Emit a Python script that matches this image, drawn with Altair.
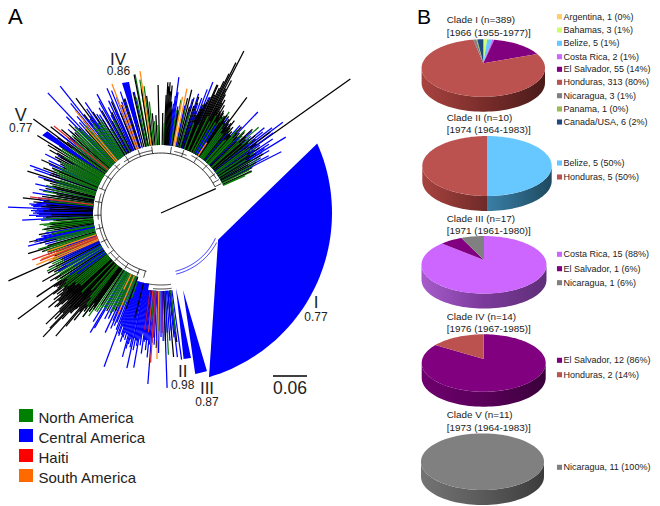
import numpy as np
import pandas as pd
import altair as alt

FONT = "Liberation Sans"
CX, CY = 161, 213

# tree tips: (angle clockwise from north, tip radius)
black_tips = [(65,100),(63.5,102),(62,108),(60,118),(58,112),(56.5,118),(54.7,232),(53.5,136),(52,120),(50.5,122),(49,112),(47.5,124),(46,116),(44.5,112),(43,118),(41.5,104),(40,112),(38.5,118),(36.6,144),(35.5,110),(34,118),(33,108),(31.5,120),(30.5,125),(30,112),(29.5,130),(29,126),(28.5,135),(28,150),(27.5,140),(27.1,182),(26.5,168),(26,155),(25.5,146),(25,138),(24.5,130),(24,140),(23.6,140),(23,126),(22.5,120),(22,118),(21.5,112),(21,116),(20.5,108),(20,104),(19,108),(18,122),(17,112),(16,120),(15,110),(14,127),(13,118),(9.5,104),(6,105),(5.5,112),(5,128),(4.5,122),(4,131),(3.5,127),(3,131),(2.5,118),(1,100),(-1.3,128),(-3,98),(-5,100),(-7,118),(-9,125),(-11,141),(-13,124),(-14.5,132),(-16,134),(-18,120),(-20,115),(-22,108),(-24,122),(-26,112),(-28,104),(-30,118),(-32,110),(-34,122),(-36.5,143),(-38,125),(-40,120),(-42,112),(-44,118),(-46,128),(-48,122),(-50,130),(-52,140),(-53.6,158.6),(-55,125),(-56,135),(-57.9,146),(-59,132),(-60.5,128),(-62,120),(-64,112),(-66,131),(-67.5,118),(-69,126),(-71,118),(-72.6,140),(-74,122),(-76,112),(-78,118),(-80,106),(-82,120),(-83.8,139),(-85,128),(-87,120),(-89,118),(-90.5,122),(-92,115),(-94,105),(-96,110),(-98,118),(-100,124),(-102.4,135),(-104,125),(-107,139),(-110,120),(-114,167),(-116,125),(-118,128),(-120,137),(-121.5,130),(-123,120),(-124,150),(-125,128),(-126.5,178),(-127,135),(-128,132),(-128.5,125),(-129,138),(-129.5,130),(-130,147),(-130.5,135),(-131,135),(-131.5,142),(-132,140),(-132.5,135),(-133,128),(-133.5,140),(-134,160),(-134.5,142),(-135,150),(-135.5,140),(-136,160),(-136.4,171),(-137,145),(-137.5,135),(-138,135),(-138.5,128),(-139.5,162),(-140,148),(-141,138),(-142,125),(-143,130),(-144,122),(-145,118),(-147,110),(-151,112),(-155,108),(-160,102),(-166,108),(-172,110),(-178,135),(-182,128),(-185,144.5),(-187,130),
 (28.2,118),(29.2,115),(30.2,118),(30.8,116),(31.2,112),(32,118),(32.5,114),(33.5,116),(34.5,112),(35,118),(36,116),(37,112),(37.5,108),(38,114),(39,110),(39.5,106),(40.5,104),(41,108),(42,104),(43.5,110),(45,108),(46.5,104),(48,114),(49.5,106),(51,112),(52.5,110),(54,118),(55.5,108),(57,106),(59,104),(61,100),
 (-47,118),(-49,115),(-51,120),(-53,118),(-54,128),(-56.5,122),(-58,125),(-60,120),(-61,115),(-63,116),(-65,108),(-68,110),(-70,116),(-73,112),(-75,115),(-77,108),(-79,110),(-81,112),(-83,114),(-84.5,118),(-86,115),(-88,112),(-91,110),(-97,112),(-99,108),(-101,112),(-106,118),(-108,125),(-109,120),(-112,115),(-115,110),(-117,118),(-119,122),(-122,125),(-124.5,130),(-125.5,125),(-126,128),(-127.5,122),(-129.2,120),(-130.2,124),(-131.2,126),(-132.2,120),(-133.2,125),(-134.2,130),(-135.2,128),(-136.2,132),(-137.2,128),(-138.2,130),(-139,125),(-140.5,128),(-141.5,122),(-142.5,118),(-143.5,112),(-144.5,115)]
green_tips = [(66,92),(65.5,100),(64,98),(62.5,104),(61,112),(59.5,106),(57,110),(55.5,114),(53,105),(51.5,116),(48.7,130),(47,108),(45.5,118),(44,104),(42.5,112),(41,96),(39.5,108),(38,100),(36,104),(34,122),(32.5,112),(31,106),(29.5,112),(26,108),(23,96),(20,96),(16,104),(13,110),(10,115),(8.5,104),(2,90),(-2,88),(-4,92),(-6,112),(-7.6,128),(-9,135),(-10.6,141),(-12,118),(-27,104),(-31,98),(-33,112),(-36,104),(-39,100),(-41,116),(-43,106),(-45,122),(-47,112),(-49,118),(-51,108),(-58,118),(-61,100),(-63,112),(-65,105),(-68,116),(-70,108),(-73,112),(-75,110),(-76.5,118),(-78,112),(-79.5,120),(-81,116),(-82.5,108),(-84,112),(-93,118),(-94,108),(-95,112),(-95.5,122),(-96,118),(-96.5,105),(-97,115),(-97.5,110),(-98,120),(-99,116),(-100.5,106),(-101,112),(-103,118),(-105,110),(-106.5,128),(-108,122),(-113,118),(-115,120),(-117,128),(-119,108),(-121,118),(-123,124),(-125,115),(-127,125),(-129,110),(-132,108),(-135,112),(-138,104),(-141,118),(-143,130),(-145,126),(-147,118),(-150,112),(-152,105),(-154,110),(-156,102),(-158,100),(-161,90),(-175,110),(-179,118),(-183,142),(-187,120),
 (58,100),(56,104),(54,110),(52,112),(50,115),(48,105),(46.5,112),(44.5,102),(43,108),(41.5,98),(40,104),(37,100),(35,108),(33,116),(28,104),(-34,108),(-35,110),(-37,112),(-38,110),(-40,108),(-42,112),(-44,115),(-46,118),(-48,114),(-50,112),(-52,108),(-54,110),(-56,112),(-57,118),(-59,108),(-60,112),(-62,105),(-64,108),(-66,112),(-67,108),(-69,112),(-72,106),(-74,108),(-104,108),(-107,115),(-109,118),(-110.5,112),(-112,112),(-114,116),(-116,118),(-118,118),(-120,122),(-122,118),(-124,120),(-126,118),(-128,118),(-130,112),(-131,108),(-140,110),(-142,120),(-144,122),(-146,118),(-148,114),(-149,110),(-151,108),(-153,112),(-155,104),(-157,100),(-159,95)]
blue_tips = [(63,135),(62,122),(61,114),(60,125),(58.7,146),(57.5,128),(56.5,134),(55.5,120),(54.5,138),(53.3,152),(52.5,140),(51.5,130),(50.5,134),(49.5,118),(48,122),(46,108),(43.8,140),(42,118),(40,104),(37,112),(35,116),(32,104),(30,96),(22.5,125),(21.6,141),(20.5,132),(19.5,122),(18.5,116),(17.5,125),(15.5,118),(12.5,110),(9,108),(8,122),(7.5,137),(7,118),(6.5,110),(-12.5,124),(-17.5,120),(-18.5,128),(-19.5,118),(-21,124),(-22,132),(-23.4,136),(-25,124),(-26.5,118),(-28.3,135),(-29,128),(-30.5,122),(-32,116),(-34.4,134),(-35.5,128),(-37,118),(-38.5,162),(-39.5,142),(-41,128),(-43.3,165),(-44.5,135),(-46,120),(-48,125),(-50.5,118),(-52,128),(-61,118),(-63,130),(-65,124),(-66.5,122),(-70,139.5),(-71,134),(-73.5,128),(-77,129),(-79,124),(-81,130),(-85.5,125),(-86,132),(-86.5,130),(-87,128),(-87.8,156),(-88.5,124),(-89,130),(-89.5,126),(-90,128),(-90.5,122),(-91,132),(-92,118),(-92.9,139),(-93.5,120),(-101,122),(-102,128),(-103,130),(-104,137),(-105,120),(-109,100),(-111,105),(-114,112),(-116,108),(-118,112),(-119.5,118),(-121.5,102),(-124,110),(-126,104),(-148,128),(-149.4,139),(-150,133),(-152,120),(-153.5,118),(-155,132),(-156.5,126),(-158,118),(-159.7,164),(-160.5,128),(-161.5,120),(-162.5,135),(-163.5,125),(-165,149),(-166,135),(-167.6,158.7),(-168.5,140),(-169,130),(-170,157),(-171,134),(-172,142),(-173,128),(-173.5,138),(-174.5,145),(-175.6,171.5),(-177,132),(-179,140),(-181,128),(-182,175),(-184,128),(-186,125),(-186.5,145),(-188,148),
 (59,118),(58,122),(56,112),(54,118),(52,112),(-27,110),(-24,112),(-20,112),(-33,118),(-36,120),(-38,118),(-40,115),(-42,122),(-83,124),(-84,122),(-85,120),(-88,128),(-89.2,122),(-90.2,124),(-91.5,125),(-100,118),(-101.5,120),(-102.5,125),(-103.5,120),(-113,112),(-115,108),(-156,118),(-157.5,122),(-159,125),(-160,118),(-161,130),(-162,128),(-163,130),(-164,132),(-164.5,126),(-165.5,140),(-166.5,130),(-167,138),(-168,128),(-169.5,135),(-170.5,128),(-171.5,122),(-172.5,130),(-174,128),(-175,132),(-176,130),(-178,128),(-180,124),(-183,120),(-185,118)]
orange_tips = [(33,84),(11.8,127),(10.5,118),(-8.4,143.5),(-20.8,138),(-19.5,115),(-39.9,134),(-41.5,115),(-108.5,120),(-111,128),(-112.6,135),(-113.5,122),(-154,85),(-157,110),(-178.4,146)]
red_tips = [(-50.9,138),(-83,132),(-110,137),(-111.5,130),(-176,150),(-174,120)]
magenta_tips = [(-172,118),(-176.5,125),(-180.5,120)]

# short links between the backbone and the tips
black_stubs = [-165,-159,-147,-136,-128,-116,-104,-92,-80,-68,-56,-44,-32,-20,-8,9,20,33,44,54,60,64]

# collapsed clades: (apex angle, apex radius, rim angle 1, rim angle 2, rim radius 1, rim radius 2)
clade_wedges = [(115,63,66,163.7,171,171),(168.7,76.5,168.3,171.2,148,147.7),(164,80,163.8,168,164.6,164.6),(-16,65.5,-16.7,-13.7,135.7,134.9),(-55.4,70.5,-56.8,-54.3,142,140)]

# backbone arcs: (start angle, end angle, radius)
black_arcs = [(-166,64,60),(-160,-128,64),(-124,-100,63),(-96,-72,63),(-68,-40,64),(-36,-8,63),(12,24,63),(28,58,65),(-188,-168,72),(-188,-174,76)]
blue_arcs = [(115,166,60),(118,166,63)]

# pies
pie_values = {
    "I": [("Argentina",1),("Bahamas",3),("Belize",5),("Costa Rica",2),("El Salvador",55),("Honduras",313),("Nicaragua",3),("Panama",1),("Canada/USA",6)],
    "II": [("Belize",5),("Honduras",5)],
    "III": [("Costa Rica",15),("El Salvador",1),("Nicaragua",1)],
    "IV": [("El Salvador",12),("Honduras",2)],
    "V": [("Nicaragua",11)],
}
country_colors = {"Argentina":"#FFCC66","Bahamas":"#CCFF66","Belize":"#66C8FF","Costa Rica":"#CC66FF","El Salvador":"#800080","Honduras":"#BC5250","Nicaragua":"#808080","Panama":"#9BBB59","Canada/USA":"#1F497D"}
# centre x, centre y, semi-axes, depth, apex shift
pie_geom = {"I":(483.3,68,61.7,28.7,15,-4.7),"II":(487,166,64.7,30,15,-2.7),"III":(484,264.8,62.5,28.8,15,-4.8),"IV":(483.7,363,62,28.7,15,-4),"V":(482.5,461.7,61.5,28.3,15,0)}
walls = {
 "I":[(90,270,["#4A1B1A","#7A2D2B","#A8433F"])],
 "II":[(90,180,["#1E4A60","#3A7FA6"]),(180,270,["#6E2A28","#A8433F"])],
 "III":[(90,270,["#5F2E78","#7B3A9A","#A65CCB"])],
 "IV":[(90,270,["#3A003A","#5A005A","#6E006E"])],
 "V":[(90,270,["#3C3C3C","#5A5A5A","#747474"])],
}

pie_titles = [("Clade I (n=389)",446.7,23),("[1966 (1955-1977)]",446.7,36),("Clade II (n=10)",446.7,120.7),("[1974 (1964-1983)]",446.7,133.3),("Clade III (n=17)",446.7,221.7),("[1971 (1961-1980)]",446.7,234),("Clade IV (n=14)",446.7,320),("[1976 (1967-1985)]",446.7,332.3),("Clade V (n=11)",446.7,418.3),("[1973 (1964-1983)]",446.7,430.7)]
pie_legend = [("Argentina, 1 (0%)","Argentina",16.7),("Bahamas, 3 (1%)","Bahamas",30),("Belize, 5 (1%)","Belize",43.3),("Costa Rica, 2 (1%)","Costa Rica",56.7),("El Salvador, 55 (14%)","El Salvador",69.3),("Honduras, 313 (80%)","Honduras",82.3),("Nicaragua, 3 (1%)","Nicaragua",95.7),("Panama, 1 (0%)","Panama",109),("Canada/USA, 6 (2%)","Canada/USA",122),
 ("Belize, 5 (50%)","Belize",163),("Honduras, 5 (50%)","Honduras",177),("Costa Rica, 15 (88%)","Costa Rica",254.3),("El Salvador, 1 (6%)","El Salvador",268.7),("Nicaragua, 1 (6%)","Nicaragua",282.7),("El Salvador, 12 (86%)","El Salvador",360.3),("Honduras, 2 (14%)","Honduras",374.7),("Nicaragua, 11 (100%)","Nicaragua",467.3)]
region_legend = [("North America","#008000",415.5),("Central America","#0000FF",435.5),("Haiti","#FF0000",455.5),("South America","#FF6A00",475.5)]
clade_labels = [("IV",118,64.5,17),("0.86",118.5,75,12),("V",20.7,120.5,18),("0.77",20.7,131.5,12),("I",316,308,17),("0.77",316,320.5,12),("II",182.7,376.5,17),("0.98",182.7,388.5,12),("III",207,393.5,17),("0.87",207,406,12),("0.06",290,394,17.5)]

X = alt.Scale(domain=[8,652])
Y = alt.Scale(domain=[506,8])

def pol(a, r):
    t = np.radians(a)
    return CX + r*np.sin(t), CY - r*np.cos(t)

def ex(name="x"):
    return alt.X(f"{name}:Q", scale=X, axis=None)
def ey(name="y"):
    return alt.Y(f"{name}:Q", scale=Y, axis=None)

def poly(pts, fill):
    df = pd.DataFrame(pts, columns=["x","y"])
    df["o"] = range(len(df))
    return alt.Chart(df).mark_line(fill=fill, stroke=None, interpolate="linear-closed", strokeWidth=0).encode(x=ex(), y=ey(), order="o:Q")

layers = []

def tip_rows(tips, col):
    rows = []
    for a, r in tips:
        r0 = 78 if -190 < a < -170 else (72 if a < -160 else 68)
        x1, y1 = pol(a, r0); x2, y2 = pol(a, r)
        rows.append(dict(x=x1,y=y1,x2=x2,y2=y2,c=col,r=r))
    return rows

# tips, longest first so that the short ones form the dense inner mass; rare colours stay on top
rows = tip_rows(black_tips,"#000000") + tip_rows(green_tips,"#0A7A0A") + tip_rows(blue_tips,"#0000FF")
tdf = pd.DataFrame(rows).sort_values("r", ascending=False)
layers.append(alt.Chart(tdf).mark_rule(strokeWidth=1.25).encode(x=ex(), y=ey(), x2="x2:Q", y2="y2:Q", color=alt.Color("c:N", scale=None)))
rows = tip_rows(orange_tips,"#FF8C1A") + tip_rows(red_tips,"#E03030") + tip_rows(magenta_tips,"#A0107A")
layers.append(alt.Chart(pd.DataFrame(rows)).mark_rule(strokeWidth=1.3).encode(x=ex(), y=ey(), x2="x2:Q", y2="y2:Q", color=alt.Color("c:N", scale=None)))

# stubs
rows = []
for a in black_stubs:
    x1, y1 = pol(a, 60); x2, y2 = pol(a, 67)
    rows.append(dict(x=x1,y=y1,x2=x2,y2=y2))
layers.append(alt.Chart(pd.DataFrame(rows)).mark_rule(color="#000000", strokeWidth=0.7).encode(x=ex(), y=ey(), x2="x2:Q", y2="y2:Q"))

# arcs
for arcs, col in [(black_arcs,"#000000"),(blue_arcs,"#0000FF")]:
    for s, e, r in arcs:
        aa = np.linspace(s, e, 60)
        x, y = pol(aa, r)
        df = pd.DataFrame(dict(x=x,y=y,o=range(60)))
        layers.append(alt.Chart(df).mark_line(color=col, strokeWidth=0.8).encode(x=ex(), y=ey(), order="o:Q"))

# root stem
x, y = pol(66, 0); x2, y2 = pol(66, 60)
layers.append(alt.Chart(pd.DataFrame([dict(x=x,y=y,x2=x2,y2=y2)])).mark_rule(color="#000000", strokeWidth=1.2).encode(x=ex(), y=ey(), x2="x2:Q", y2="y2:Q"))

# clade wedges
for a0, r0, a1, a2, r1, r2 in clade_wedges:
    aa = np.linspace(a1, a2, 50)
    rr = np.linspace(r1, r2, 50)
    xs, ys = pol(aa, rr)
    ax, ay = pol(a0, r0)
    layers.append(poly([(ax,ay)] + list(zip(xs,ys)), "#0000FF"))

# pies
for name, vals in pie_values.items():
    cx, cy, A, B, D, sh = pie_geom[name]
    def rim(t, dep=0):
        t = np.radians(t)
        return cx + A*np.sin(t), cy - B*np.cos(t) + dep
    for s, e, cols in walls[name]:
        tt = np.linspace(s, e, 60)
        xt, yt = rim(tt)
        xb, yb = rim(tt[::-1], D)
        n = len(cols)
        stops = [alt.GradientStop(color=c, offset=i/(n-1)) for i, c in enumerate(cols)]
        layers.append(poly(list(zip(xt,yt)) + list(zip(xb,yb)), alt.Gradient(gradient="linear", stops=stops, x1=1, x2=0, y1=0, y2=0)))
    total = sum(v for _, v in vals)
    cum = 0
    for c, v in vals:
        s, e = 360*cum/total, 360*(cum+v)/total
        cum += v
        n = max(3, int((e-s)/2)+2)
        tt = np.linspace(s, e, n)
        xr, yr = rim(tt)
        pts = list(zip(xr, yr))
        if len(vals) > 1:
            pts = [(cx, cy+sh)] + pts
        layers.append(poly(pts, country_colors[c]))

def text_layer(rows, size, color="#222222", align="left", baseline="alphabetic"):
    df = pd.DataFrame(rows, columns=["t","x","y"])
    return alt.Chart(df).mark_text(font=FONT, fontSize=size, color=color, align=align, baseline=baseline).encode(x=ex(), y=ey(), text="t:N")

layers.append(text_layer(pie_titles, 9.9))
layers.append(text_layer([(t, 563.5, y) for t,_,y in pie_legend], 9, baseline="middle"))
df = pd.DataFrame([dict(x=559.5,y=y,c=country_colors[c]) for _,c,y in pie_legend])
layers.append(alt.Chart(df).mark_square(size=26, opacity=1).encode(x=ex(), y=ey(), color=alt.Color("c:N", scale=None)))

for t, x, y, s in clade_labels:
    layers.append(text_layer([(t,x,y)], s, align="center"))
layers.append(text_layer([("A",8,24)], 22, color="#000000"))
layers.append(text_layer([("B",417,24)], 21, color="#000000"))
layers.append(alt.Chart(pd.DataFrame([dict(x=273,x2=307,y=376)])).mark_rule(color="#000000", strokeWidth=1.5).encode(x=ex(), x2="x2:Q", y=ey()))

df = pd.DataFrame([dict(x=19,x2=33,y=y-6.5,y2=y+6.5,c=c) for _,c,y in region_legend])
layers.append(alt.Chart(df).mark_rect().encode(x=ex(), x2="x2:Q", y=ey(), y2="y2:Q", color=alt.Color("c:N", scale=None)))
layers.append(text_layer([(t,38.5,y+7) for t,_,y in region_legend], 15))

chart = alt.layer(*layers).properties(width=644, height=498, padding=0, autosize=alt.AutoSizeParams(type="none")).configure_view(stroke=None)
chart.save("out.html", embed_options={"renderer": "svg", "actions": False})
